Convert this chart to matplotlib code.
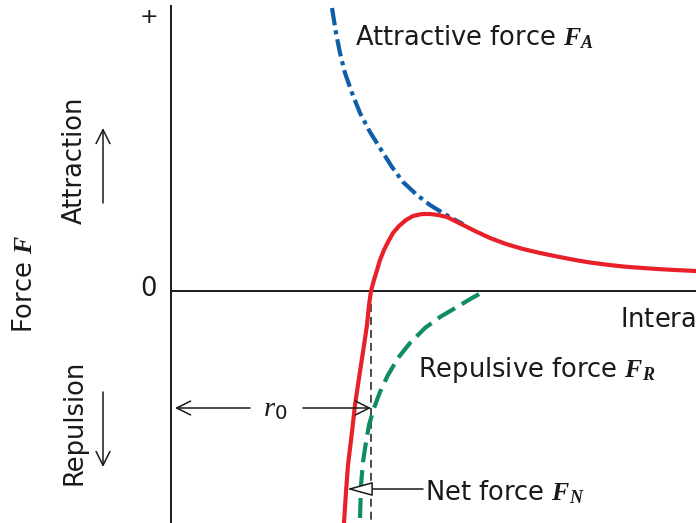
import numpy as np
import matplotlib.pyplot as plt

plt.rcParams['font.family'] = ['DejaVu Sans']
plt.rcParams['mathtext.fontset'] = 'custom'
plt.rcParams['mathtext.it'] = 'Liberation Serif:italic'
plt.rcParams['mathtext.bf'] = 'Liberation Serif:italic:bold'
plt.rcParams['mathtext.rm'] = 'DejaVu Sans'
plt.rcParams['mathtext.sf'] = 'DejaVu Sans'

# separation r (x) and force F (y), arbitrary units; origin where the axes cross
r_attr = [161, 165, 169, 174, 181, 189, 199, 209, 221, 232, 246, 259, 272, 286, 292]
f_attr = [283, 258, 238, 218, 198, 178, 159, 143, 124, 109, 96, 86, 78, 70, 67]

r_net = [173, 175, 177, 181, 184, 188, 192, 196, 198, 200, 203, 206, 209, 213, 217,
         222, 228, 235, 242, 251, 259, 267, 276, 284, 289, 304, 319, 335, 352, 369,
         386, 404, 419, 436, 452, 469, 486, 504, 525]
f_net = [-232, -201, -174, -141, -114, -87, -61, -34, -14, 0, 11, 21, 31, 41, 49,
         58, 65, 71, 75, 77, 77, 76, 74, 70, 67.5, 60, 53, 47, 42, 38,
         34.5, 31, 28.5, 26.3, 24.5, 23.2, 22, 21, 20]

r_rep = [189, 190, 192, 195, 198, 203, 209, 217, 227, 239, 254, 269, 286, 301, 312]
f_rep = [-227, -194, -171, -151, -134, -117, -101, -84, -67, -52, -37, -26, -16, -7, -1]

r0 = 200

blue = '#0e5ea8'
red = '#e8202a'
green = '#0f8c62'
ink = '#1a1a1a'

fig = plt.figure(figsize=(6.96, 5.23), dpi=100)
ax = fig.add_axes([0, 0, 1, 1])
ax.set_xlim(-171, 525)
ax.set_ylim(-232, 291)
ax.axis('off')

# axes
ax.plot([0, 525], [0, 0], color=ink, lw=1.4, solid_capstyle='butt')
ax.plot([0, 0], [-232, 286], color=ink, lw=1.4, solid_capstyle='butt')
ax.plot([r0, r0], [0, -232], color=ink, lw=1.1, linestyle=(0, (5.2, 3.3)))

# curves
ax.plot(r_attr, f_attr, color=blue, lw=3, linestyle=(0, (4.2, 1.2, 1.0, 1.2)),
        solid_joinstyle='round')
ax.plot(r_rep, f_rep, color=green, lw=3, linestyle=(0, (4.8, 1.9)))
ax.plot(r_net, f_net, color=red, lw=3, solid_capstyle='round', solid_joinstyle='round')

fs = 18.5
ax.text(-22, 274, '+', fontsize=16, ha='center', va='center', color=ink)
ax.text(-22, 2, '0', fontsize=fs, ha='center', va='center', color=ink)
ax.text(-146, 7, r'Force $\mathbf{F}$', fontsize=fs, rotation=90, ha='center', va='center', color=ink)
ax.text(-96, 131, 'Attraction', fontsize=fs, rotation=90, ha='center', va='center', color=ink)
ax.text(-96, -131, 'Repulsion', fontsize=fs, rotation=90, ha='center', va='center', color=ink)

arrow = dict(arrowstyle='->,head_length=0.5,head_width=0.25', color=ink, lw=1.1,
             mutation_scale=20, shrinkA=0, shrinkB=0)
ax.annotate('', xy=(-68, 163), xytext=(-68, 88), arrowprops=arrow)
ax.annotate('', xy=(-68, -176), xytext=(-68, -101), arrowprops=arrow)
ax.annotate('', xy=(4, -117), xytext=(79, -117), arrowprops=arrow)
ax.annotate('', xy=(r0, -117), xytext=(132, -117), arrowprops=arrow)
ax.text(104, -117, r'$r_{\mathsf{0}}$', fontsize=fs + 2, ha='center', va='center', color=ink)

ax.annotate('', xy=(176, -198), xytext=(252, -198),
            arrowprops=dict(arrowstyle='-|>,head_length=0.8,head_width=0.22',
                            fc='white', ec=ink, lw=1.1, mutation_scale=20,
                            shrinkA=0, shrinkB=0))

ax.text(184, 246, r'Attractive force $\mathbf{F}_\mathbf{A}$', fontsize=fs, ha='left', va='baseline', color=ink)
ax.text(247, -86, r'Repulsive force $\mathbf{F}_\mathbf{R}$', fontsize=fs, ha='left', va='baseline', color=ink)
ax.text(254, -209, r'Net force $\mathbf{F}_\mathbf{N}$', fontsize=fs, ha='left', va='baseline', color=ink)
ax.text(449, -36, 'Interatomic separation $r$', fontsize=fs, ha='left', va='baseline',
        color=ink, clip_on=False)

fig.savefig('out.png', dpi=100)
